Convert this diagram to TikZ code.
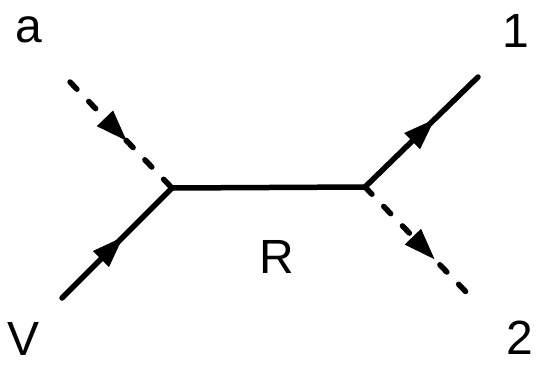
\documentclass[tikz,border=0pt]{standalone}
\usepackage{fontspec}
\setmainfont{Liberation Sans}
\usetikzlibrary{decorations.markings,arrows.meta}
\begin{document}
\begin{tikzpicture}[x=1pt,y=-1pt,
  lbl/.style={inner sep=0pt,anchor=base,font=\fontsize{48}{50}\selectfont},
  prop/.style={line width=5.5pt,line cap=round},
  ghost/.style={prop,dash pattern=on 10pt off 17pt},
  midarrow/.style={postaction={decorate},decoration={markings,
     mark=at position #1 with {\arrow{Triangle[length=32pt,width=21pt]}}}}]
\useasboundingbox (0,0) rectangle (537,364);
\coordinate (A) at (70,82);
\coordinate (Vs) at (62,298);
\coordinate (L) at (172,188);
\coordinate (Rv) at (365,187);
\coordinate (O1) at (478,77);
\coordinate (O2) at (468,294);
\draw[ghost,midarrow=0.56] (A) -- (L);
\draw[prop,midarrow=0.56] (Vs) -- (L);
\draw[prop] (L) -- (Rv);
\draw[prop,midarrow=0.62] (Rv) -- (O1);
\draw[ghost,midarrow=0.68] (Rv) -- (O2);
\node[lbl] (la) at (29,42) {a};
\node[lbl] (l1) at (516,47) {1};
\node[lbl] (lV) at (24,355) {V};
\node[lbl] (l2) at (520,354) {2};
\node[lbl] (lR) at (277,273) {R};
\end{tikzpicture}
\end{document}
